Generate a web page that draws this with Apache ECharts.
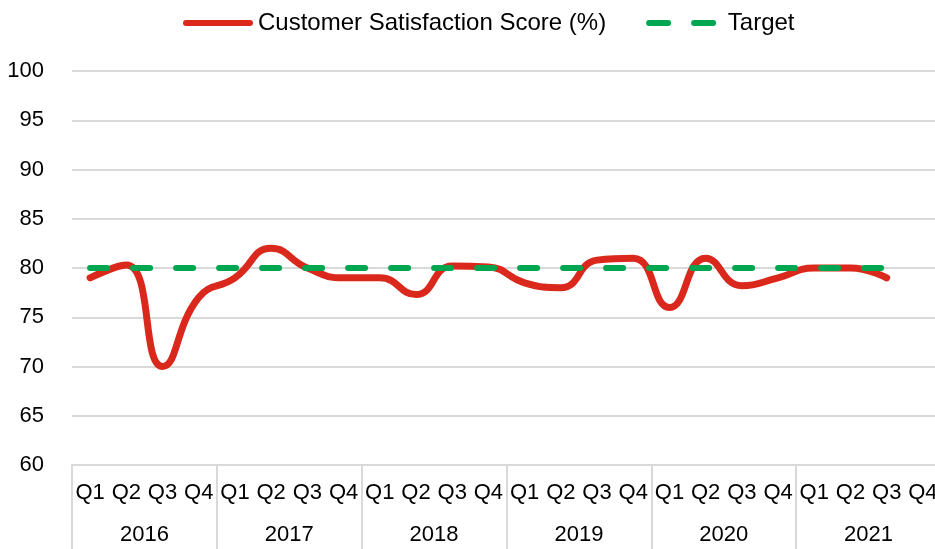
<!DOCTYPE html>
<html>
<head>
<meta charset="utf-8" />
<title></title>
<script src="https://cdn.jsdelivr.net/npm/echarts@6/dist/echarts.min.js"></script>
<style>
  html, body { margin: 0; padding: 0; background: #fff; overflow: hidden; }
  #chart { width: 941px; height: 549px; }
</style>
</head>
<body>
<div id="chart"></div>
<script>
var years = ['2016', '2017', '2018', '2019', '2020', '2021'];
var quarters = ['Q1', 'Q2', 'Q3', 'Q4'];
// one value per quarter, Q4 2021 not reported yet
var scores = [
  79, 80.3, 70, 77,
  79, 82, 80, 79,
  79, 77.3, 80.2, 80.1,
  78.5, 78, 80.8, 81,
  76, 81, 78.2, 79,
  80, 80, 79, null
];
var target = [
  80, 80, 80, 80,
  80, 80, 80, 80,
  80, 80, 80, 80,
  80, 80, 80, 80,
  80, 80, 80, 80,
  80, 80, 80, null
];
var yTicks = { min: 60, max: 100, step: 5 };

var cats = [];
for (var i = 0; i < years.length; i++) {
  for (var j = 0; j < quarters.length; j++) cats.push(quarters[j]);
}

var font = 'Liberation Sans, Arial, sans-serif';
var red = '#da291c';
var green = '#00a650';

var chart = echarts.init(document.getElementById('chart'));
chart.setOption({
  animation: false,
  textStyle: { fontFamily: font },
  legend: {
    top: 6,
    left: 178,
    itemWidth: 70,
    itemHeight: 6,
    itemGap: 40,
    textStyle: { fontSize: 24, color: '#000', fontFamily: font },
    data: [{
      name: 'Customer Satisfaction Score (%)',
      icon: 'path://M3,0H67A3,3 0 0 1 67,6H3A3,3 0 0 1 3,0Z'
    }, {
      name: 'Target',
      icon: 'path://M3,0H22A3,3 0 0 1 22,6H3A3,3 0 0 1 3,0ZM48,0H67A3,3 0 0 1 67,6H48A3,3 0 0 1 48,0Z'
    }],
    formatter: function (name) {
      return name === 'Target' ? ' ' + name : name;
    }
  },
  grid: { left: 72, right: 0, top: 71, bottom: 84, containLabel: false },
  xAxis: [{
    type: 'category',
    data: cats,
    boundaryGap: true,
    axisLine: { lineStyle: { color: '#d9d9d9', width: 2 } },
    axisTick: { show: false },
    axisLabel: { color: '#000', fontSize: 22, margin: 17, interval: 0, fontFamily: font }
  }, {
    type: 'category',
    data: years,
    position: 'bottom',
    boundaryGap: true,
    axisLine: { show: false },
    axisTick: { show: true, length: 86, lineStyle: { color: '#d9d9d9', width: 2 } },
    axisLabel: { color: '#000', fontSize: 22, margin: 59, fontFamily: font }
  }],
  yAxis: {
    type: 'value',
    min: yTicks.min,
    max: yTicks.max,
    interval: yTicks.step,
    axisLine: { show: false },
    axisTick: { show: false },
    splitLine: { lineStyle: { color: '#d9d9d9', width: 2 } },
    axisLabel: { color: '#000', fontSize: 22, margin: 28, fontFamily: font }
  },
  series: [{
    name: 'Customer Satisfaction Score (%)',
    type: 'line',
    data: scores,
    smooth: 0.5,
    symbol: 'none',
    itemStyle: { color: red },
    lineStyle: { color: red, width: 7, cap: 'round' },
    z: 2
  }, {
    name: 'Target',
    type: 'line',
    data: target,
    symbol: 'none',
    itemStyle: { color: green },
    lineStyle: { color: green, width: 6, type: [17, 26], cap: 'round' },
    z: 3
  }]
});
</script>
</body>
</html>
